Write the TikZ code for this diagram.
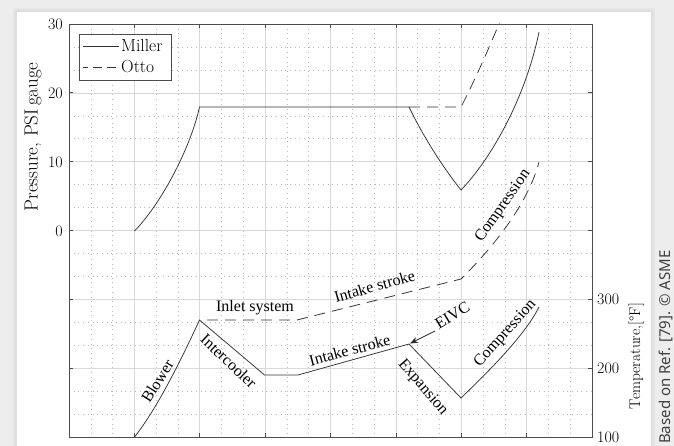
\documentclass[tikz,border=0pt]{standalone}
\usepackage{fontspec}
\newfontfamily\timesf{Liberation Serif}
\newfontfamily\creditf{Noto Sans}
\usetikzlibrary{arrows.meta}
\tikzset{
  majorgrid/.style={draw=black!15, line width=0.6pt},
  minorgrid/.style={draw=black!28, line width=0.5pt, dash pattern=on 0.8pt off 3.9pt},
  frame/.style={draw=black!70, line width=0.7pt},
  miller/.style={draw=black!80, line width=0.75pt},
  otto/.style={draw=black!80, line width=0.75pt, dash pattern=on 11pt off 7pt},
  ticklab/.style={font=\fontsize{16}{16}\selectfont, inner sep=0pt},
  axlab/.style={inner sep=0pt, rotate=90, anchor=base},
  annot/.style={font=\timesf\fontsize{16}{16}\selectfont, inner sep=0pt, anchor=base},
  legtext/.style={font=\fontsize{17.5}{17.5}\selectfont, inner sep=0pt, anchor=west},
}
\begin{document}
\begin{tikzpicture}[x=1pt,y=-1pt]
\useasboundingbox (0,0) rectangle (674,446);
% page background and shadow
\fill[black!7] (0,0) rectangle (674,446);
\fill[black!10] (13,8) rectangle (655,446);
\fill[black!13] (15,10) rectangle (653,446);
\fill[white] (17,12) rectangle (651,446);
% grid
\def\xa{69}\def\xb{592}\def\ya{24}\def\yb{437}
\pgfmathsetmacro{\dx}{(\xb-\xa)/8}
\pgfmathsetmacro{\dy}{(\yb-\ya)/6}
\foreach \i in {1,...,23}{
  \pgfmathtruncatemacro{\m}{mod(\i,3)}
  \ifnum\m=0\relax
    \draw[majorgrid] ({\xa+\i*\dx/3},\ya) -- ({\xa+\i*\dx/3},\yb);
  \else
    \draw[minorgrid] ({\xa+\i*\dx/3},\ya) -- ({\xa+\i*\dx/3},\yb);
  \fi
}
\foreach \j in {1,...,17}{
  \pgfmathtruncatemacro{\m}{mod(\j,3)}
  \ifnum\m=0\relax
    \draw[majorgrid] (\xa,{\ya+\j*\dy/3}) -- (\xb,{\ya+\j*\dy/3});
  \else
    \draw[minorgrid] (\xa,{\ya+\j*\dy/3}) -- (\xb,{\ya+\j*\dy/3});
  \fi
}
% ticks
\foreach \k in {1,...,7}{
  \draw[frame] ({\xa+\k*\dx},\ya) -- ++(0,4);
  \draw[frame] ({\xa+\k*\dx},\yb) -- ++(0,-4);
}
\foreach \k in {1,...,5}{
  \draw[frame] (\xa,{\ya+\k*\dy}) -- ++(4,0);
  \draw[frame] (\xb,{\ya+\k*\dy}) -- ++(-4,0);
}
\draw[frame] (\xa,\ya) rectangle (\xb,\yb);
% tick labels
\node[ticklab, anchor=east] (p30) at (63,24) {30};
\node[ticklab, anchor=east] (p20) at (63,93) {20};
\node[ticklab, anchor=east] (p10) at (63,162) {10};
\node[ticklab, anchor=east] (p0) at (63,231) {0};
\node[ticklab, anchor=west] (t300) at (597,299) {300};
\node[ticklab, anchor=west] (t200) at (597,368) {200};
\node[ticklab, anchor=west] (t100) at (597,437) {100};
% axis labels
\node[axlab, font=\fontsize{19}{19}\selectfont] (ylab) at (37.5,137) {Pressure, PSI\,gauge};
\node[axlab, font=\fontsize{15.5}{15.5}\selectfont] (tlab) at (640,356) {Temperature,[\textdegree F]};
% pressure curves
\begin{scope}
\clip (\xa,\ya) rectangle (\xb,\yb);
\draw[miller] (134.5,231) .. controls (160,205) and (190,150) .. (199.5,107)
  -- (409,107) .. controls (425,140) and (445,170) .. (461,190)
  .. controls (490,160) and (525,100) .. (539,32);
\draw[otto] (409,107) -- (461,107) .. controls (475,80) and (488,50) .. (499,24) -- (504,14);
% temperature curves
\draw[miller] (134.5,437) .. controls (160,405) and (188,345) .. (199.5,320)
  -- (264.5,375) -- (298,375) -- (409,344) -- (461,398)
  .. controls (490,370) and (525,335) .. (539,307);
\draw[otto] (207,320) -- (297,320) -- (461,279)
  .. controls (475,265) and (525,215) .. (539,162);
\end{scope}
% annotations
\node[annot] (inlet) at (255,311) {Inlet system};
\node[annot, rotate=15.7] (intk1) at (376,291.5) {Intake stroke};
\node[annot, rotate=15] (intk2) at (351,355.5) {Intake stroke};
\node[annot, rotate=58] (blower) at (162,384) {Blower};
\node[annot, rotate=-43.5] (cooler) at (225,365) {Intercooler};
\node[annot, rotate=-49] (expan) at (420,390) {Expansion};
\node[annot, rotate=48] (comp1) at (508,336) {Compression};
\node[annot, rotate=55] (comp2) at (506,208) {Compression};
\node[annot, rotate=31] (eivc) at (455,320) {EIVC};
\coordinate (eivcpt) at (410,343.5);
\draw[black!85, line width=0.75pt, -{Stealth[length=8pt,width=6pt]}] (435,331) -- (eivcpt);
% legend
\draw[frame, fill=white] (79,34) rectangle (171,80);
\draw[miller] (83,46) -- (119,46);
\node[legtext] (lmiller) at (121,46) {Miller};
\draw[otto, dash pattern=on 9pt off 5pt, dash phase=4pt] (83,67) -- (119,67);
\node[legtext] (lotto) at (121,67) {Otto};
% credit
\node[font=\creditf\fontsize{15}{15}\selectfont, text=black!75, rotate=90, anchor=base west, inner sep=0pt] (credit) at (670,444) {Based on Ref. [79]. \textcopyright\ ASME};
\end{tikzpicture}
\end{document}
